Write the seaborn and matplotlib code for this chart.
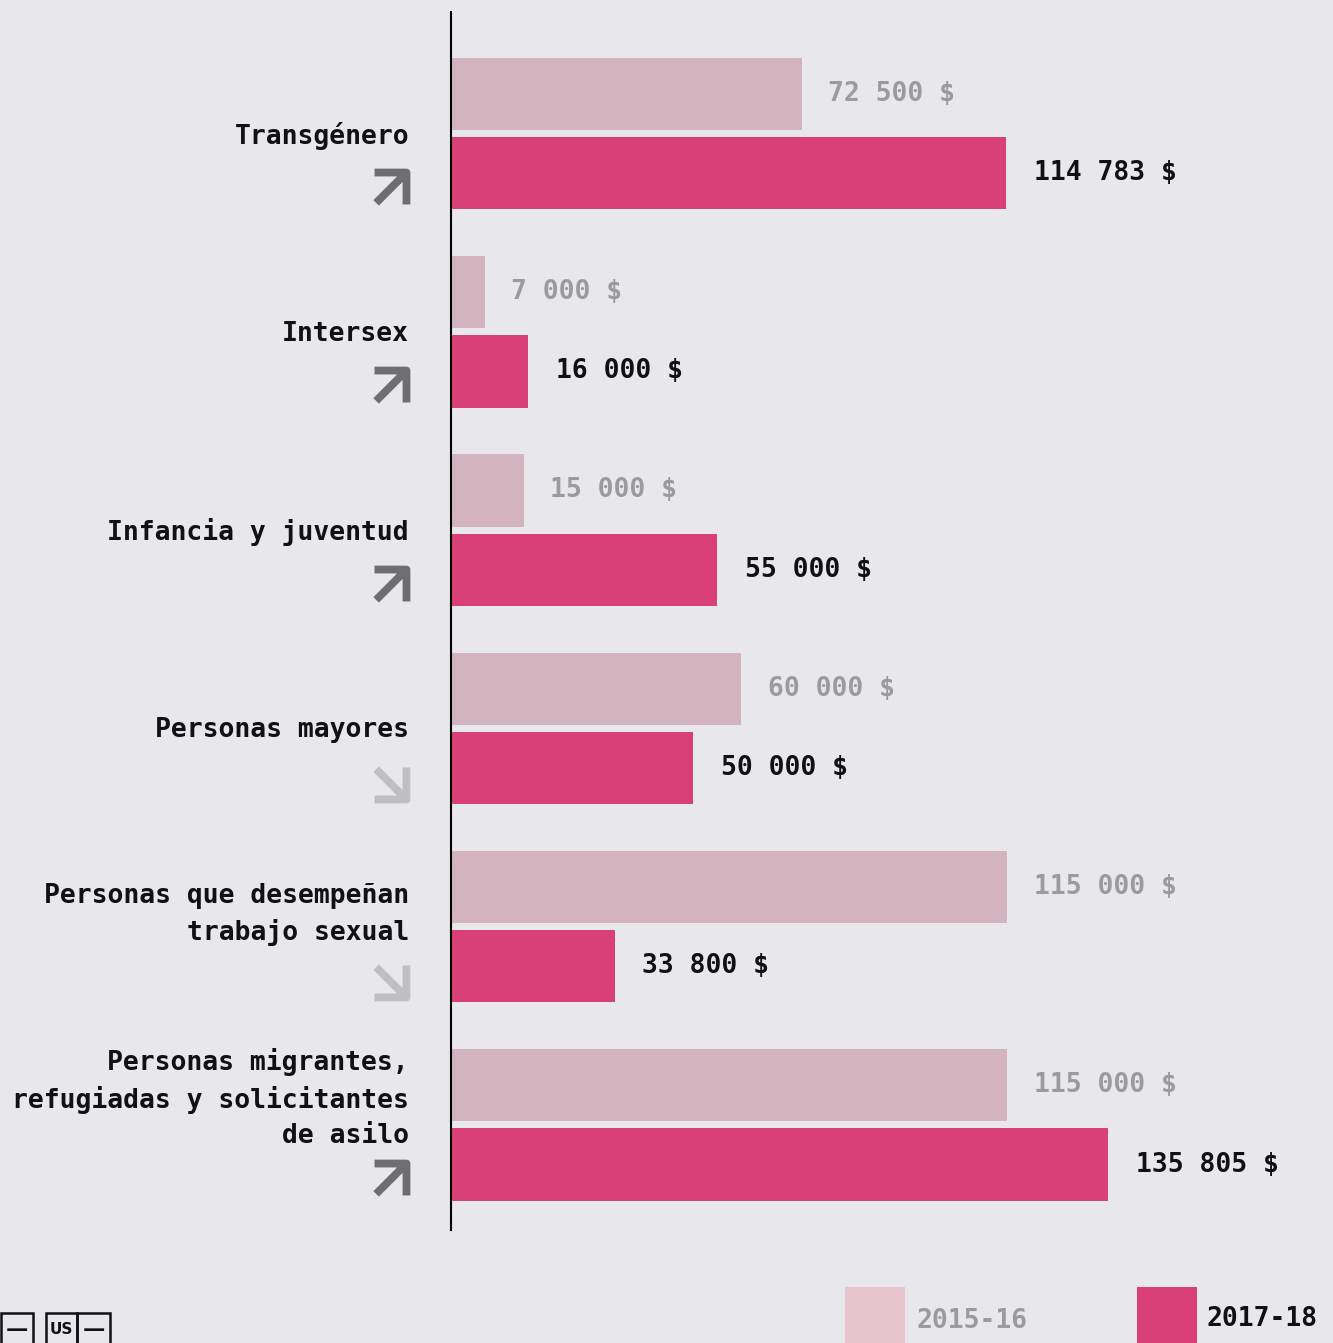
import matplotlib
matplotlib.use("Agg")
import matplotlib.pyplot as plt
from matplotlib.path import Path
from matplotlib.markers import MarkerStyle
from matplotlib.patches import Rectangle
import pandas as pd
import seaborn as sns

# datos
categorias = ["Transgénero", "Intersex", "Infancia y juventud", "Personas mayores",
              "Personas que desempeñan\ntrabajo sexual",
              "Personas migrantes,\nrefugiadas y solicitantes\nde asilo"]
periodos = ["2015-16", "2017-18"]
valores_2015 = [72500, 7000, 15000, 60000, 115000, 115000]
valores_2017 = [114783, 16000, 55000, 50000, 33800, 135805]
tendencia = ["up", "up", "up", "down", "down", "up"]

BG = "#e8e7ec"
C_LIGHT = "#d3b3bd"
C_DARK = "#d94077"
FONT = "DejaVu Sans Mono"

df = pd.DataFrame({
    "categoria": categorias * 2,
    "periodo": [periodos[0]] * len(categorias) + [periodos[1]] * len(categorias),
    "valor": valores_2015 + valores_2017,
})

sns.set_style("white")
plt.rcParams["font.family"] = [FONT, "DejaVu Sans"]
plt.rcParams["font.weight"] = "bold"

fig = plt.figure(figsize=(13.33, 13.43), dpi=100, facecolor=BG)
W, H = 1333, 1343
ax = fig.add_axes([451 / W, (H - 1230) / H, (W - 451) / W, (1230 - 12) / H])
ax.set_facecolor(BG)

sns.barplot(data=df, y="categoria", x="valor", hue="periodo", order=categorias,
            hue_order=periodos, palette={periodos[0]: C_LIGHT, periodos[1]: C_DARK},
            width=0.8, gap=0.09, orient="h", ax=ax, legend=False, saturation=1,
            linewidth=0, edgecolor="none")

ax.set_xlim(0, 882 * 206.7)
ax.set_ylim(5.53, -0.613)
ax.set_xlabel("")
ax.set_ylabel("")
ax.set_xticks([])
ax.set_yticks([])
for s in ["top", "right", "bottom"]:
    ax.spines[s].set_visible(False)
ax.spines["left"].set_color("black")
ax.spines["left"].set_linewidth(1.5)
ax.spines["left"].set_zorder(5)


def fmt(v):
    return f"{v:,}".replace(",", " ") + " $"


ax.bar_label(ax.containers[0], labels=[fmt(v) for v in valores_2015], padding=19,
             color="#9b9b9f", fontsize=19, fontweight="bold")
ax.bar_label(ax.containers[1], labels=[fmt(v) for v in valores_2017], padding=20,
             color="#111111", fontsize=19, fontweight="bold")

# etiquetas de categoria
for i, cat in enumerate(categorias):
    n = cat.count("\n") + 1
    ax.annotate(cat, xy=(0, i), xycoords="data",
                xytext=(-42 * 0.72, -(-(n - 1) * 14 + 2) * 0.72), textcoords="offset points",
                ha="right", va="center", multialignment="right", linespacing=1.45,
                fontsize=19, fontweight="bold", color="#111111", annotation_clip=False)

# flechas
codes = [Path.MOVETO, Path.LINETO, Path.LINETO, Path.MOVETO, Path.LINETO]
up = Path([(-1, 1), (1, 1), (1, -1), (1, 1), (-0.9, -0.9)], codes)
down = Path([(-1, -1), (1, -1), (1, 1), (1, -1), (-0.9, 0.9)], codes)
for i, t in enumerate(tendencia):
    p = up if t == "up" else down
    col = "#6e6e72" if t == "up" else "#bfbfc2"
    m = MarkerStyle(p, joinstyle="miter", capstyle="butt")
    ax.plot([(389.5 - 451) / 882], [i + 0.275], marker=m, markersize=23,
            markeredgewidth=5.6, markeredgecolor=col, markerfacecolor="none",
            linestyle="none", transform=ax.get_yaxis_transform(), clip_on=False)

# leyenda
fig.patches.append(Rectangle((845 / W, 0), 60 / W, 56 / H, transform=fig.transFigure,
                             facecolor="#e6c4cd", edgecolor="none"))
fig.text(916 / W, (H - 1321) / H, periodos[0], color="#9b9b9f", fontsize=19,
         fontweight="bold", va="center", ha="left")
fig.patches.append(Rectangle((1137 / W, 0), 60 / W, 56 / H, transform=fig.transFigure,
                             facecolor=C_DARK, edgecolor="none"))
fig.text(1207 / W, (H - 1319) / H, periodos[1], color="#111111", fontsize=19,
         fontweight="bold", va="center", ha="left")

# logo
for x0, w, txt, fs in [(1, 32, "—", 16), (46, 31, "US", 11), (77, 33, "—", 16)]:
    fig.patches.append(Rectangle((x0 / W, -10 / H), w / W, 40 / H, transform=fig.transFigure,
                                 facecolor="none", edgecolor="#111111", linewidth=1.8))
    fig.text((x0 + w / 2) / W, (H - 1330) / H, txt, color="#111111", fontsize=fs,
             fontweight="bold", ha="center", va="center", family="DejaVu Sans")

fig.savefig("out.png", dpi=100, facecolor=BG)
